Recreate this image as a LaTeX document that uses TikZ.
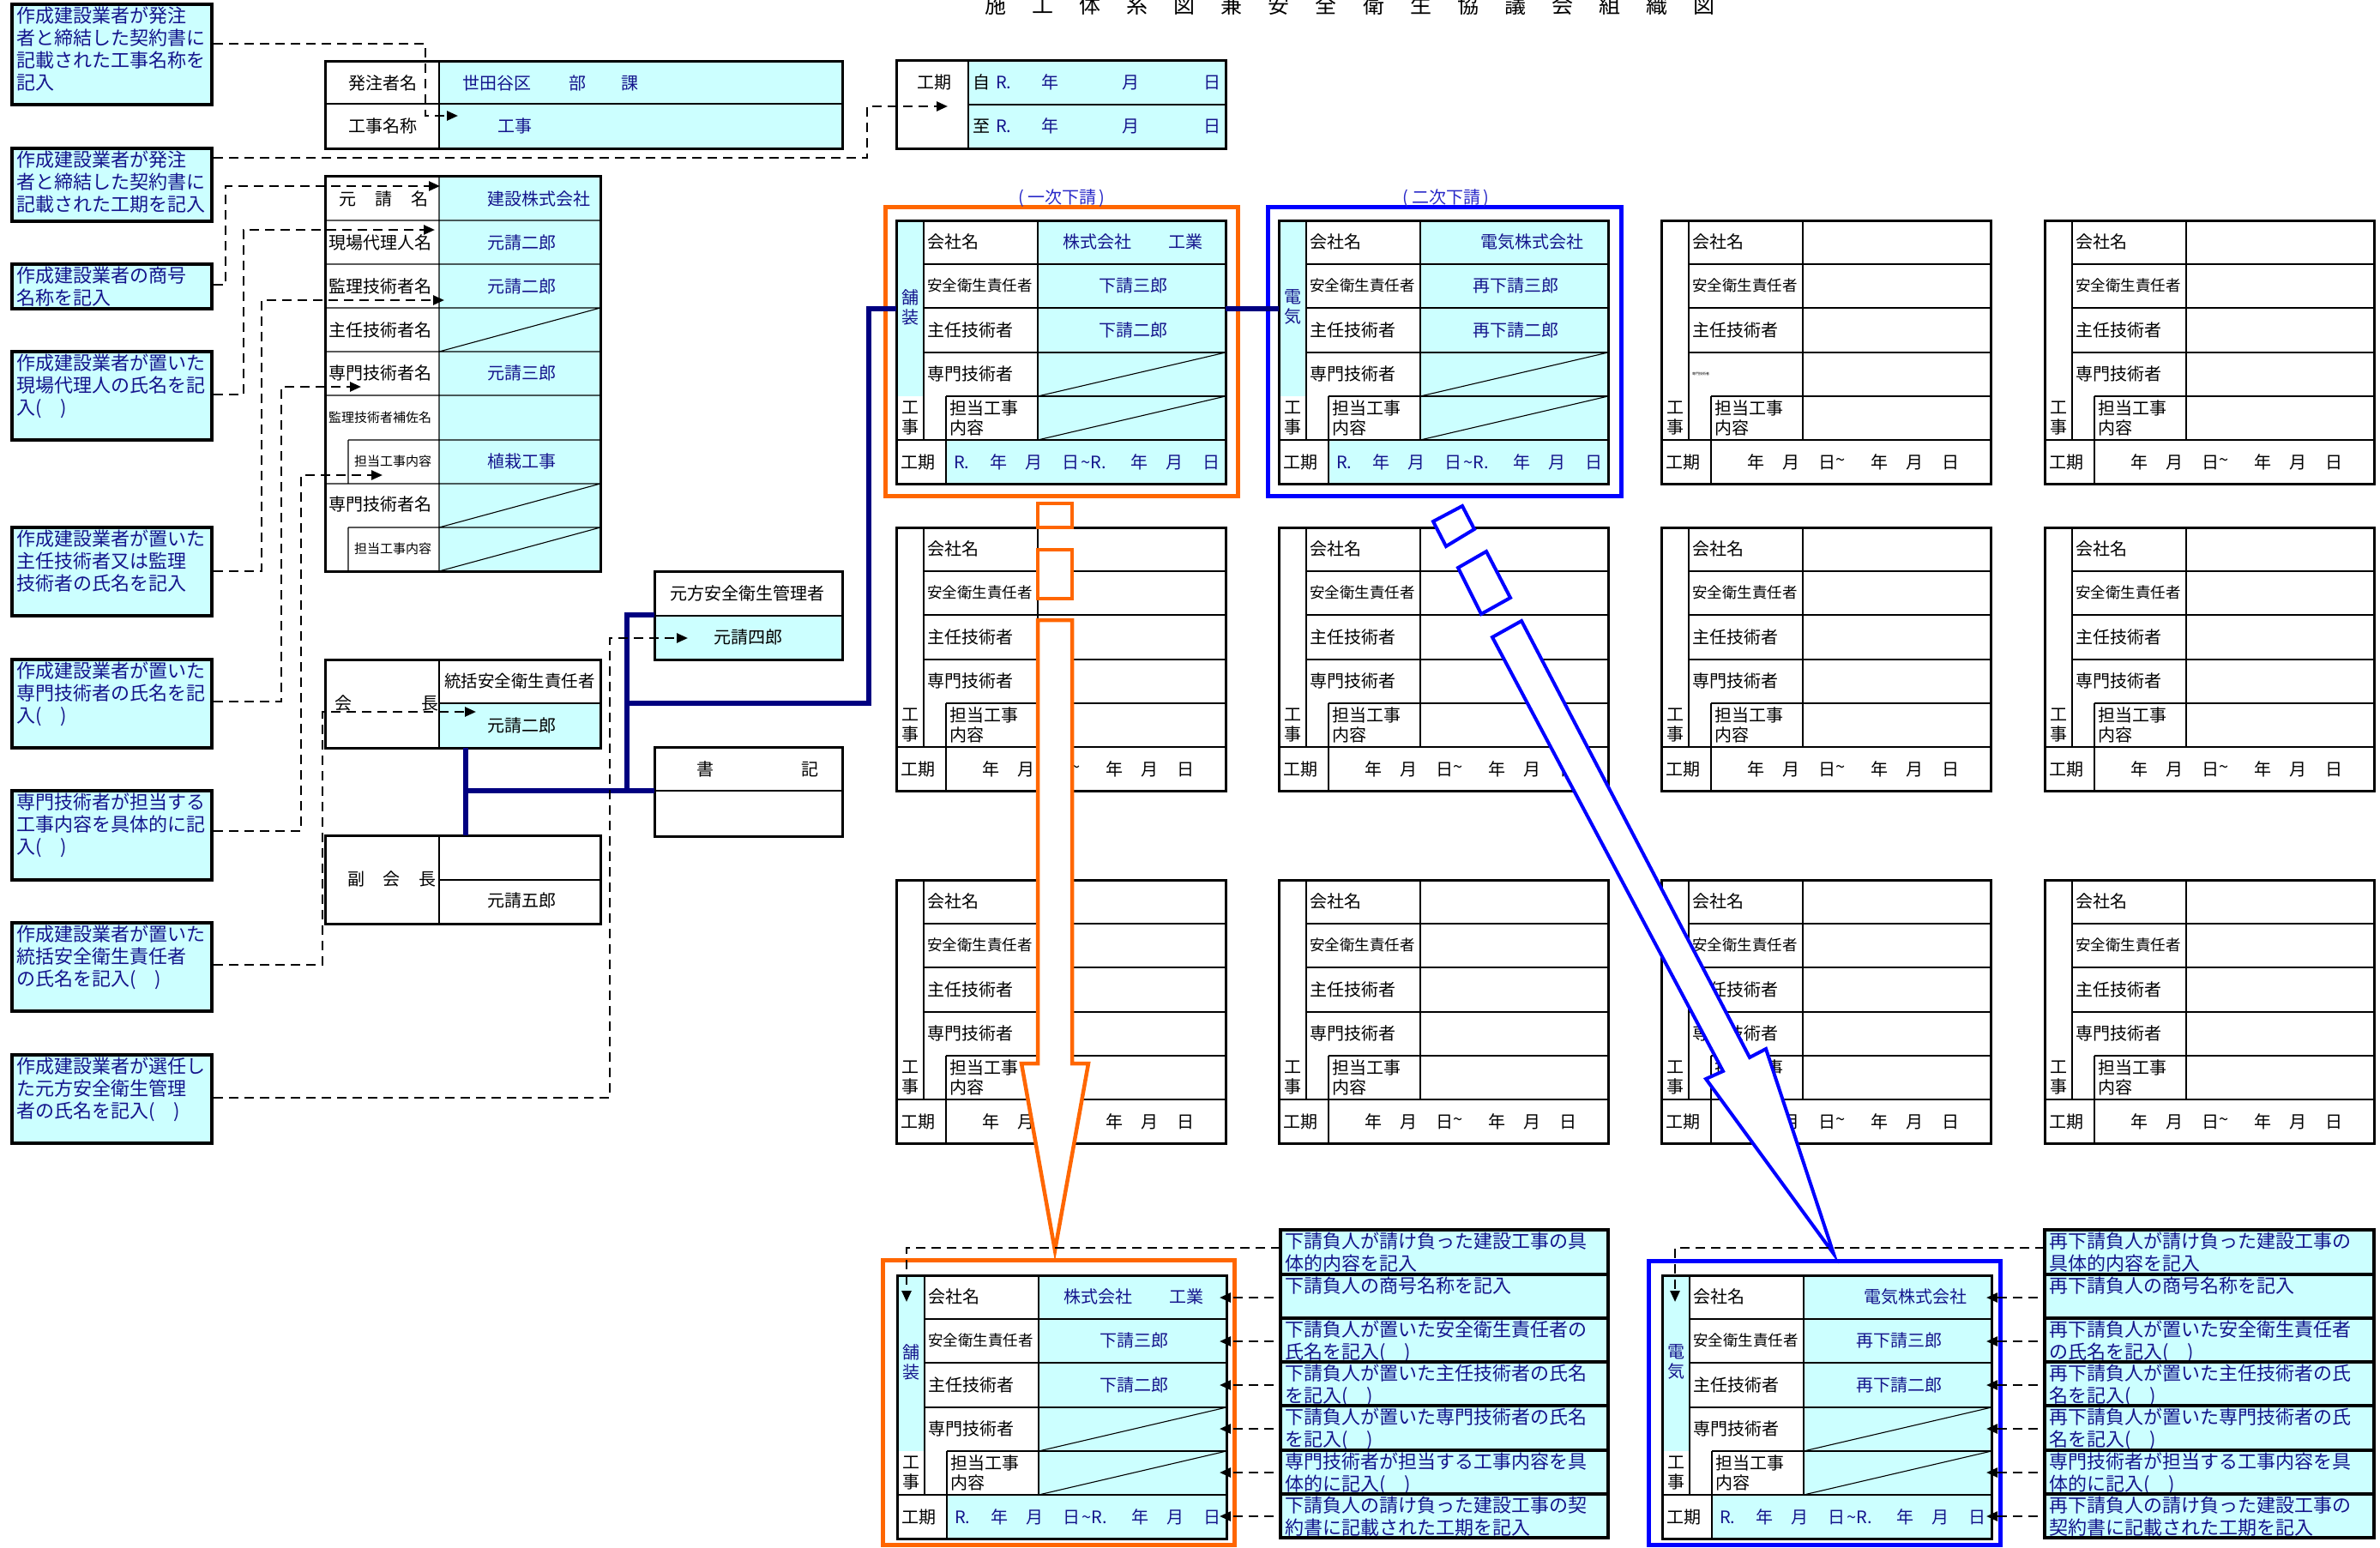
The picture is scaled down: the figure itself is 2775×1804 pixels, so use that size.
\documentclass[tikz,border=0pt]{standalone}
\usepackage{fontspec}
\setmainfont{Noto Sans CJK JP}
\usetikzlibrary{arrows.meta}
\definecolor{cyanf}{RGB}{204,255,255}
\definecolor{navytext}{RGB}{20,20,140}
\definecolor{navyl}{RGB}{0,0,128}
\definecolor{orangel}{RGB}{255,102,0}
\definecolor{bluel}{RGB}{0,0,255}
\definecolor{midblue}{RGB}{40,40,200}
\newcommand\myfL{\fontsize{20}{23}\selectfont}
\newcommand\myfM{\fontsize{19.5}{23}\selectfont}
\newcommand\myfS{\fontsize{17.5}{20}\selectfont}
\newcommand\myfN{\fontsize{22}{26}\selectfont}
\newcommand\myfX{\fontsize{15}{18}\selectfont}
\newcommand\myfTiny{\fontsize{4}{5}\selectfont}
\newcommand\myfTitle{\fontsize{25}{30}\selectfont}
\tikzset{
 lbl/.style={anchor=west,inner sep=0pt,font=\myfL},
 val/.style={anchor=west,inner sep=0pt,font=\myfL,text=navytext},
 tabborder/.style={line width=3pt},
 thinl/.style={line width=1.1pt},
 dashc/.style={line width=2.5pt,dash pattern=on 11pt off 7pt,-{Triangle[length=13pt,width=11pt]}},
 noteboxst/.style={draw=black,fill=cyanf,line width=3.5pt,anchor=north west,inner sep=0pt,outer sep=0pt},
 notetext/.style={anchor=north west,inner sep=0pt,align=left,font=\myfN,text=navytext},
 navyline/.style={line width=6.5pt,draw=navyl},
 bigarrow/.style={fill=white,line width=4.5pt},
}
\newcommand\mknote[6]{%
 \node[noteboxst,minimum width=#4,minimum height=#5] (#1) at (#2,#3) {};
 \node[notetext] (#1t) at (#2+5,#3+3) {#6};}
\newcommand\TabLabels[2]{%
 \node[lbl] (#1a) at (36,25) {会社名};
 \node[lbl,font=\myfS] (#1b) at (36,76) {安全衛生責任者};
 \node[lbl] (#1c) at (36,128) {主任技術者};
 \node[lbl,font=#2] (#1d) at (36,179) {専門技術者};
 \node[lbl,align=left] (#1e) at (62,230) {担当工事\\内容};
 \node[anchor=center,inner sep=0pt,font=\myfL,align=center] (#1f) at (16,231) {工\\事};
 \node[lbl] (#1g) at (5,282) {工期};}
\newcommand\TabLines{%
 \draw[thinl] (32,0)--(32,256) (165,0)--(165,256) (58,205)--(58,307)
  (32,51)--(384,51) (32,102)--(384,102) (32,154)--(384,154) (58,205)--(384,205) (0,256)--(384,256);}
\newcommand\EmptyTab[4]{%
\begin{scope}[shift={(#1,#2)}]
 \fill[white] (0,0) rectangle (384,307);
 \TabLines
 \draw[tabborder] (0,0) rectangle (384,307);
 \TabLabels{#3}{#4}
 \foreach \t/\xx [count=\k] in {年/100,月/141,日/183,\textasciitilde/203,年/244,月/285,日/327}
   \node[lbl] (#3y\k) at (\xx,282) {\t};
\end{scope}}
\newcommand\FilledTab[8]{%
\begin{scope}[shift={(#1,#2)}]
 \fill[white] (0,0) rectangle (384,307);
 \fill[cyanf] (0,0) rectangle (32,205);
 \fill[cyanf] (165,0) rectangle (384,256);
 \fill[cyanf] (58,256) rectangle (384,307);
 \TabLines
 \draw[thinl] (165,205)--(384,154) (165,256)--(384,205);
 \draw[tabborder] (0,0) rectangle (384,307);
 \TabLabels{#3}{\myfL}
 \node[anchor=center,inner sep=0pt,font=\myfL,align=center,text=navytext] (#3s) at (16,101) {#4};
 \node[val] (#3v1) at (#6,25) {#5};
 \node[val,anchor=center] (#3v2) at (276,76) {#7};
 \node[val,anchor=center] (#3v3) at (276,128) {#8};
 \foreach \t/\xx [count=\k] in {R./67,年/109,月/150,日/193,\textasciitilde R./215,年/273,月/314,日/357}
   \node[val] (#3y\k) at (\xx,282) {\t};
\end{scope}}
\newcommand\elbow[6]{%
 \coordinate (#1s) at (#2,#3);
 \coordinate (#1k) at (#4,#5);
 \coordinate (#1e) at (#6,#5);
 \draw[dashc] (#1s) -| (#1k) -- (#1e);}
\begin{document}
\begin{tikzpicture}[x=1pt,y=-1pt]
\useasboundingbox (0,0) rectangle (2775,1804);
\fill[white] (0,0) rectangle (2775,1804);
% title
\foreach \c [count=\i from 0] in {施,工,体,系,図,兼,安,全,衛,生,協,議,会,組,織,図}
  \node[anchor=base west,inner sep=0pt,font=\myfTitle] (title\i) at (1148+55.1*\i,15) {\c};
% orderer table
\fill[cyanf] (512,71) rectangle (982,173);
\draw[thinl] (512,71)--(512,173) (379,121)--(982,121);
\draw[tabborder] (379,71) rectangle (982,173);
\node[lbl] (hl1) at (406,97) {発注者名};
\node[lbl] (hl2) at (406,147) {工事名称};
\node[val] (hv1) at (539,97) {世田谷区};
\node[val] (hv2) at (663,97) {部};
\node[val] (hv3) at (724,97) {課};
\node[val] (hv4) at (580,147) {工事};
% period table
\fill[cyanf] (1129,70) rectangle (1429,173);
\draw[thinl] (1129,70)--(1129,173) (1129,122)--(1429,122);
\draw[tabborder] (1045,70) rectangle (1429,173);
\node[lbl] (kl1) at (1069,96) {工期};
\node[lbl] (kz1) at (1134,96) {自};
\node[lbl] (kz2) at (1134,147) {至};
\foreach \yy/\r in {96/a,147/b}{
 \node[val] (kr\r1) at (1161,\yy) {R.};
 \node[val] (kr\r2) at (1214,\yy) {年};
 \node[val] (kr\r3) at (1308,\yy) {月};
 \node[val] (kr\r4) at (1403,\yy) {日};}
% prime contractor table
\fill[cyanf] (512,205) rectangle (700,666);
\draw[thinl] (512,205)--(512,666)
 (379,257)--(700,257) (379,308)--(700,308) (379,359)--(700,359) (379,410)--(700,410) (379,461)--(700,461)
 (406,513)--(700,513) (379,564)--(700,564) (406,615)--(700,615)
 (406,513)--(406,564) (406,615)--(406,666)
 (512,410)--(700,359) (512,615)--(700,564) (512,666)--(700,615);
\draw[tabborder] (379,205) rectangle (700,666);
\node[lbl] (ml1) at (395,232) {元\hspace{22pt}請\hspace{22pt}名};
\node[lbl] (ml2) at (383,283) {現場代理人名};
\node[lbl] (ml3) at (383,334) {監理技術者名};
\node[lbl] (ml4) at (383,385) {主任技術者名};
\node[lbl] (ml5) at (383,435) {専門技術者名};
\node[lbl,font=\myfX] (ml6) at (383,487) {監理技術者補佐名};
\node[lbl,font=\myfX] (ml7) at (413,538) {担当工事内容};
\node[lbl] (ml8) at (383,588) {専門技術者名};
\node[lbl,font=\myfX] (ml9) at (413,640) {担当工事内容};
\node[val] (mv1) at (568,232) {建設株式会社};
\node[val] (mv2) at (568,283) {元請二郎};
\node[val] (mv3) at (568,334) {元請二郎};
\node[val] (mv4) at (568,435) {元請三郎};
\node[val] (mv5) at (568,538) {植栽工事};
% safety manager
\fill[cyanf] (763,718) rectangle (982,769);
\draw[thinl] (763,718)--(982,718);
\draw[tabborder] (763,666) rectangle (982,769);
\node[lbl] (gl1) at (781,692) {元方安全衛生管理者};
\node[lbl] (gv1) at (832,743) {元請四郎};
% chairman
\fill[cyanf] (512,820) rectangle (700,872);
\draw[thinl] (512,769)--(512,872) (512,820)--(700,820);
\draw[tabborder] (379,769) rectangle (700,872);
\node[lbl] (cl1) at (390,820) {会};
\node[lbl] (cl2) at (491,820) {長};
\node[lbl,font=\myfM] (cl3) at (518,794) {統括安全衛生責任者};
\node[lbl] (cv1) at (568,846) {元請二郎};
% vice chairman
\draw[thinl] (512,974)--(512,1077) (512,1026)--(700,1026);
\draw[tabborder] (379,974) rectangle (700,1077);
\node[lbl] (fl1) at (405,1025) {副};
\node[lbl] (fl2) at (446,1025) {会};
\node[lbl] (fl3) at (488,1025) {長};
\node[lbl] (fv1) at (568,1050) {元請五郎};
% secretary
\draw[thinl] (763,922)--(982,922);
\draw[tabborder] (763,871) rectangle (982,975);
\node[lbl] (sl1) at (812,897) {書};
\node[lbl] (sl2) at (934,897) {記};
% subcontractor tables
\FilledTab{1045}{257}{t11}{舗\\装}{株式会社\hspace{43pt}工業}{194}{下請三郎}{下請二郎}
\FilledTab{1491}{257}{t12}{電\\気}{電気株式会社}{235}{再下請三郎}{再下請二郎}
\EmptyTab{1937}{257}{t13}{\myfTiny}
\EmptyTab{2384}{257}{t14}{\myfL}
\EmptyTab{1045}{615}{t21}{\myfL}
\EmptyTab{1491}{615}{t22}{\myfL}
\EmptyTab{1937}{615}{t23}{\myfL}
\EmptyTab{2384}{615}{t24}{\myfL}
\EmptyTab{1045}{1026}{t31}{\myfL}
\EmptyTab{1491}{1026}{t32}{\myfL}
\EmptyTab{1937}{1026}{t33}{\myfL}
\EmptyTab{2384}{1026}{t34}{\myfL}
\FilledTab{1046}{1487}{b1}{舗\\装}{株式会社\hspace{43pt}工業}{194}{下請三郎}{下請二郎}
\FilledTab{1938}{1487}{b2}{電\\気}{電気株式会社}{235}{再下請三郎}{再下請二郎}
% frames
\draw[orangel,line width=5pt] (1032,241) rectangle (1443,578);
\draw[bluel,line width=5pt] (1478,241) rectangle (1890,578);
\draw[orangel,line width=5pt] (1029,1469) rectangle (1439,1801);
\draw[bluel,line width=5pt] (1922,1470) rectangle (2332,1801);
\node[inner sep=0pt,font=\myfL,text=midblue] (lab1) at (1238,231) {(\,一次下請\,)};
\node[inner sep=0pt,font=\myfL,text=midblue] (lab2) at (1686,231) {(\,二次下請\,)};
% navy organisation lines
\draw[navyline] (543,872)--(543,974);
\draw[navyline] (543,922)--(763,922);
\draw[navyline] (731,922)--(731,717)--(763,717);
\draw[navyline] (731,820)--(1013,820)--(1013,360)--(1045,360);
\draw[navyline] (1429,360)--(1491,360);
% big arrows
\draw[draw=orangel,bigarrow] (1210,587) rectangle (1250,615);
\draw[draw=orangel,bigarrow] (1210,641) rectangle (1250,698);
\draw[draw=orangel,bigarrow] (1210,723)--(1250,723)--(1250,1240)--(1269,1240)--(1230,1458)--(1191,1240)--(1210,1240)--cycle;
\draw[draw=bluel,bigarrow,line width=4pt] (1671,608)--(1705,590)--(1719,617)--(1686,637)--cycle;
\draw[draw=bluel,bigarrow,line width=4pt] (1700,662)--(1733,643)--(1761,697)--(1727,716)--cycle;
\draw[draw=bluel,bigarrow,line width=4pt] (1740,743)--(1774,724)--(2040,1233)--(2059,1223)--(2138,1462)--(1989,1258)--(2009,1249)--cycle;
% left notes
\mknote{n1}{14}{5}{233}{117}{作成建設業者が発注\\者と締結した契約書に\\記載された工事名称を\\記入}
\mknote{n2}{14}{173}{233}{85}{作成建設業者が発注\\者と締結した契約書に\\記載された工期を記入}
\mknote{n3}{14}{308}{233}{52}{作成建設業者の商号\\名称を記入}
\mknote{n4}{14}{410}{233}{103}{作成建設業者が置いた\\現場代理人の氏名を記\\入(　)}
\mknote{n5}{14}{615}{233}{103}{作成建設業者が置いた\\主任技術者又は監理\\技術者の氏名を記入}
\mknote{n6}{14}{769}{233}{103}{作成建設業者が置いた\\専門技術者の氏名を記\\入(　)}
\mknote{n7}{14}{922}{233}{104}{専門技術者が担当する\\工事内容を具体的に記\\入(　)}
\mknote{n8}{14}{1076}{233}{103}{作成建設業者が置いた\\統括安全衛生責任者\\の氏名を記入(　)}
\mknote{n9}{14}{1230}{233}{103}{作成建設業者が選任し\\た元方安全衛生管理\\者の氏名を記入(　)}
% right notes (first subcontractor)
\mknote{r1}{1493}{1434}{382}{52}{下請負人が請け負った建設工事の具\\体的内容を記入}
\mknote{r2}{1493}{1486}{382}{51}{下請負人の商号名称を記入}
\mknote{r3}{1493}{1537}{382}{51}{下請負人が置いた安全衛生責任者の\\氏名を記入(　)}
\mknote{r4}{1493}{1588}{382}{51}{下請負人が置いた主任技術者の氏名\\を記入(　)}
\mknote{r5}{1493}{1639}{382}{52}{下請負人が置いた専門技術者の氏名\\を記入(　)}
\mknote{r6}{1493}{1691}{382}{51}{専門技術者が担当する工事内容を具\\体的に記入(　)}
\mknote{r7}{1493}{1742}{382}{51}{下請負人の請け負った建設工事の契\\約書に記載された工期を記入}
% right notes (second subcontractor)
\mknote{q1}{2384}{1434}{384}{52}{再下請負人が請け負った建設工事の\\具体的内容を記入}
\mknote{q2}{2384}{1486}{384}{51}{再下請負人の商号名称を記入}
\mknote{q3}{2384}{1537}{384}{51}{再下請負人が置いた安全衛生責任者\\の氏名を記入(　)}
\mknote{q4}{2384}{1588}{384}{51}{再下請負人が置いた主任技術者の氏\\名を記入(　)}
\mknote{q5}{2384}{1639}{384}{52}{再下請負人が置いた専門技術者の氏\\名を記入(　)}
\mknote{q6}{2384}{1691}{384}{51}{専門技術者が担当する工事内容を具\\体的に記入(　)}
\mknote{q7}{2384}{1742}{384}{51}{再下請負人の請け負った建設工事の\\契約書に記載された工期を記入}
% dashed connectors
\elbow{c1}{249}{51}{496}{135}{534}
\elbow{c2}{249}{184}{1011}{124}{1105}
\elbow{c3}{249}{332}{263}{217}{513}
\elbow{c4}{249}{460}{284}{268}{507}
\elbow{c5}{249}{666}{305}{350}{518}
\elbow{c6}{249}{818}{328}{451}{421}
\elbow{c7}{249}{969}{351}{554}{446}
\elbow{c8}{249}{1125}{376}{830}{555}
\elbow{c9}{249}{1280}{711}{744}{802}
\coordinate (d0s) at (1493,1455); \coordinate (d0e) at (1057,1518);
\draw[dashc] (d0s) -| (d0e);
\coordinate (e0s) at (2384,1455); \coordinate (e0e) at (1953,1518);
\draw[dashc] (e0s) -| (e0e);
\foreach \yy [count=\k] in {1513,1564,1615,1666,1717,1768}{
 \coordinate (dl\k) at (1485,\yy); \coordinate (dr\k) at (1422,\yy);
 \draw[dashc] (dl\k) -- (dr\k);
 \coordinate (el\k) at (2376,\yy); \coordinate (er\k) at (2316,\yy);
 \draw[dashc] (el\k) -- (er\k);}
\end{tikzpicture}
\end{document}
